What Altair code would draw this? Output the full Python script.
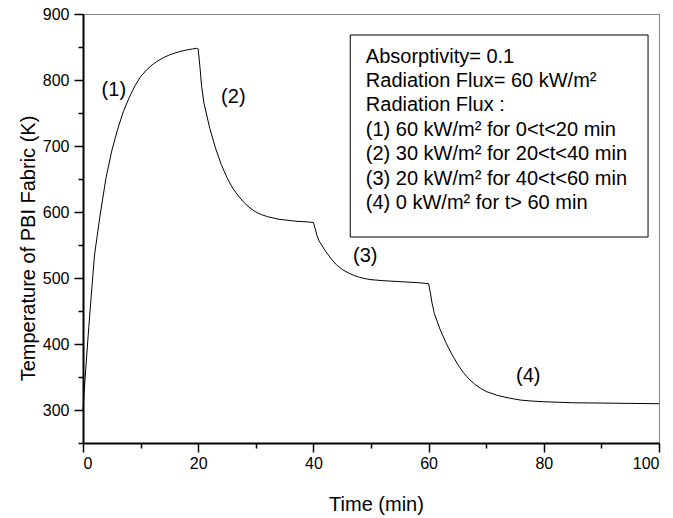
import altair as alt
import pandas as pd

# ---- data ----
t_vals = [0, 0.5, 1.0, 1.4, 2, 3, 4, 5, 6, 7, 8, 9, 10, 11, 12, 13, 14, 15, 16, 17, 18, 19, 19.7, 20,
          20.3, 20.6, 21, 22, 23, 24, 25, 26, 27, 28, 29, 30, 31, 32, 33, 34, 35, 36, 37, 38, 39, 40,
          40.3, 40.6, 41, 42, 43, 44, 45, 46, 47, 48, 49, 50, 52, 54, 56, 58, 60,
          60.3, 60.6, 61, 62, 63, 64, 65, 66, 67, 68, 69, 70, 72, 74, 76, 78, 80, 85, 90, 95, 100]
temp_vals = [300, 365, 425, 470, 535, 597, 652, 693, 725, 752, 773, 791, 805, 815, 823, 829, 834, 838, 841, 843.5, 845.5, 847, 848, 847,
             820, 790, 765, 727, 697, 672, 652, 636, 624, 614, 606, 600, 596, 593, 591, 589, 588, 587, 586, 585.5, 585, 584,
             575, 565, 556, 542, 530, 520, 513, 508, 504, 501, 499, 497.5, 496, 495, 494, 493, 491.5,
             478, 462, 446, 422, 402, 385, 370, 357, 347, 339, 333, 328, 322, 318, 315, 313.5, 312.5, 311, 310.5, 310, 309.5]

label_text = ["(1)", "(2)", "(3)", "(4)"]
label_t = [5.35, 26.1, 49.0, 77.3]
label_T = [785, 773.5, 533, 351.5]

legend_lines = [
    "Absorptivity= 0.1",
    "Radiation Flux= 60 kW/m²",
    "Radiation Flux :",
    "(1) 60 kW/m² for 0<t<20 min",
    "(2) 30 kW/m² for 20<t<40 min",
    "(3) 20 kW/m² for 40<t<60 min",
    "(4) 0 kW/m² for t> 60 min",
]
legend_t = [49.1] * 7
legend_T = [826.2, 789.2, 752.3, 715.3, 678.3, 641.4, 604.4]
box_t = [46.4, 98.1]
box_T = [868.2, 562.1]

x_major = [0, 20, 40, 60, 80, 100]
x_minor = [10, 30, 50, 70, 90]
y_major = [300, 400, 500, 600, 700, 800, 900]
y_minor = [250, 350, 450, 550, 650, 750, 850]

FONT = "Liberation Sans"

curve = pd.DataFrame({"t": t_vals, "T": temp_vals})
labels = pd.DataFrame({"t": label_t, "T": label_T, "txt": label_text})
legend = pd.DataFrame({"t": legend_t, "T": legend_T, "txt": legend_lines})
box = pd.DataFrame({"t0": [box_t[0]], "t1": [box_t[1]], "T0": [box_T[0]], "T1": [box_T[1]]})

xs = alt.Scale(domain=[0, 100], nice=False, zero=False)
ys = alt.Scale(domain=[250, 900], nice=False, zero=False)

x_axis = alt.Axis(values=x_major, title="Time (min)", orient="bottom", tickSize=9, tickWidth=1.5,
                  labelPadding=3, labelFontSize=16, titleFontSize=20, titleY=67,
                  titleBaseline="alphabetic", titleX=293, domainWidth=2)
y_axis = alt.Axis(values=y_major, title="Temperature of PBI Fabric (K)", orient="left", tickSize=9,
                  tickWidth=1.5, labelPadding=5, labelFontSize=16, titleFontSize=20, titleAngle=270,
                  titleX=-49, titleY=234, titleBaseline="alphabetic", titleAlign="center", domainWidth=2)
x_minor_axis = alt.Axis(values=x_minor, title="", orient="bottom", tickSize=5, tickWidth=1.5,
                        labels=False, domain=False)
y_minor_axis = alt.Axis(values=y_minor, title="", orient="left", tickSize=5, tickWidth=1.5,
                        labels=False, domain=False)

line = alt.Chart(curve).mark_line(color="black", strokeWidth=1).encode(
    x=alt.X("t:Q", scale=xs, axis=x_axis),
    y=alt.Y("T:Q", scale=ys, axis=y_axis),
)

curve_labels = alt.Chart(labels).mark_text(font=FONT, fontSize=20, color="black",
                                           align="center", baseline="middle").encode(
    x=alt.X("t:Q", scale=xs, axis=x_minor_axis),
    y=alt.Y("T:Q", scale=ys, axis=y_minor_axis),
    text="txt:N",
)

legend_box = alt.Chart(box).mark_rect(fill="white", stroke="black", strokeWidth=1).encode(
    x=alt.X("t0:Q", scale=xs, axis=None),
    x2="t1:Q",
    y=alt.Y("T0:Q", scale=ys, axis=None),
    y2="T1:Q",
)

legend_text = alt.Chart(legend).mark_text(font=FONT, fontSize=20, color="black",
                                          align="left", baseline="alphabetic").encode(
    x=alt.X("t:Q", scale=xs, axis=None),
    y=alt.Y("T:Q", scale=ys, axis=None),
    text="txt:N",
)

chart = alt.layer(line, curve_labels, legend_box, legend_text).resolve_axis(
    x="independent", y="independent"
).properties(
    width=576, height=429,
    padding={"left": 83, "top": 14, "right": 14, "bottom": 75},
    autosize=alt.AutoSizeParams(type="none"),
    background="white",
).configure_axis(
    labelFont=FONT, titleFont=FONT, labelColor="black", titleColor="black",
    domainColor="black", tickColor="black", grid=False, titleFontWeight="normal",
).configure_view(stroke="#808080", strokeWidth=1)

chart.save("out.html", embed_options={"renderer": "svg", "actions": False})
